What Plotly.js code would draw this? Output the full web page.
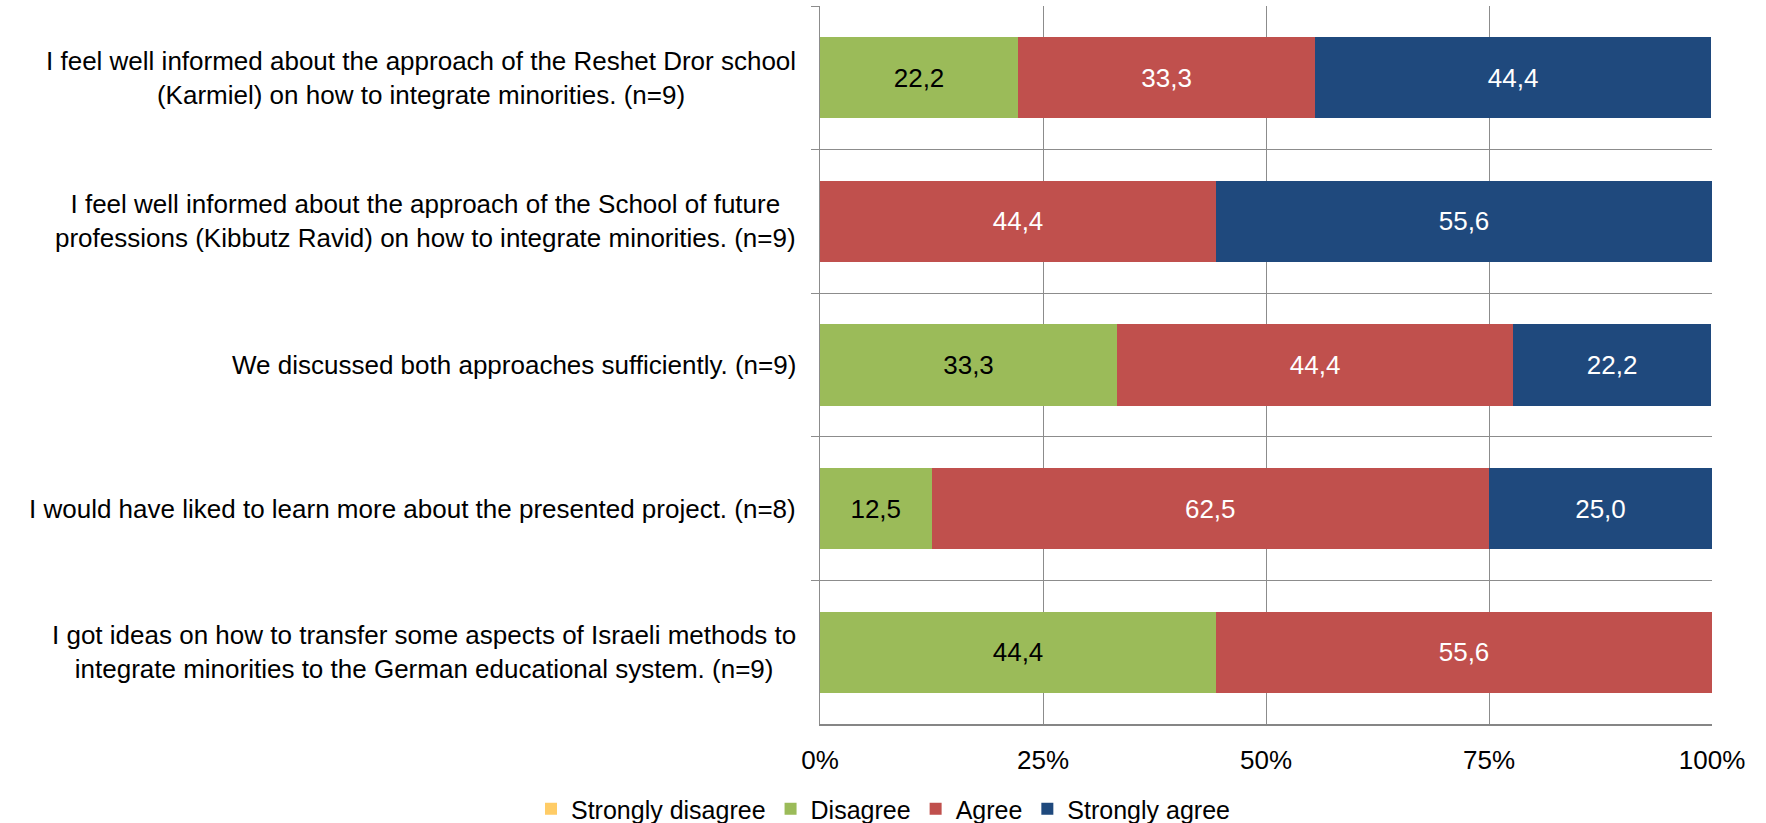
<!DOCTYPE html>
<html>
<head>
<meta charset="utf-8">
<script src="https://cdn.plot.ly/plotly-3.0.1.min.js"></script>
<style>
  html, body { margin: 0; padding: 0; background: #ffffff; }
  #chart { width: 1766px; height: 823px; }
</style>
</head>
<body>
<div id="chart"></div>
<script>
// ---- data ----
const categories = [
  "I feel well informed about the approach of the Reshet Dror school<br>(Karmiel) on how to integrate minorities. (n=9)",
  "I feel well informed about the approach of the School of future<br>professions (Kibbutz Ravid) on how to integrate minorities. (n=9)",
  "We discussed both approaches sufficiently. (n=9)",
  "I would have liked to learn more about the presented project. (n=8)",
  "I got ideas on how to transfer some aspects of Israeli methods to<br>integrate minorities to the German educational system. (n=9)"
];
const strongDisagree = [0, 0, 0, 0, 0];
const disagree       = [22.2, 0, 33.3, 12.5, 44.4];
const agree          = [33.3, 44.4, 44.4, 62.5, 55.6];
const strongAgree    = [44.4, 55.6, 22.2, 25.0, 0];
const xTickVals  = [0, 25, 50, 75, 100];
const xTickText  = ["0%", "25%", "50%", "75%", "100%"];

const fontFam = "Liberation Sans, Arial, sans-serif";
const FS = 26;
const fmt = v => (v > 0 ? v.toFixed(1).replace('.', ',') : "");

function series(name, vals, color, textColor) {
  return {
    type: 'bar',
    orientation: 'h',
    name: name,
    y: categories,
    x: vals,
    text: vals.map(fmt),
    textposition: 'inside',
    insidetextanchor: 'middle',
    textangle: 0,
    constraintext: 'none',
    textfont: { family: fontFam, size: FS, color: textColor },
    marker: { color: color, line: { width: 0 } },
    hoverinfo: 'skip'
  };
}

const data = [
  series("Strongly disagree", strongDisagree, "#FFCC66", "#000000"),
  series("Disagree", disagree, "#9BBB59", "#000000"),
  series("Agree", agree, "#C0504D", "#ffffff"),
  series("Strongly agree", strongAgree, "#1F497D", "#ffffff")
];

const annotations = categories.map(c => ({
  xref: 'paper', yref: 'y',
  x: 0, y: c,
  xanchor: 'right', yanchor: 'middle',
  xshift: -22,
  text: c,
  align: 'center',
  showarrow: false,
  font: { family: fontFam, size: FS, color: '#000000' }
}));

const layout = {
  width: 1766, height: 823,
  margin: { l: 820, r: 54, t: 6, b: 99, pad: 0 },
  paper_bgcolor: '#ffffff',
  plot_bgcolor: '#ffffff',
  barmode: 'stack',
  bargap: 0.435,
  showlegend: true,
  font: { family: fontFam, size: FS, color: '#000000' },
  xaxis: {
    range: [0, 100],
    tickvals: xTickVals,
    ticktext: xTickText,
    showgrid: true,
    gridcolor: '#8c8c8c',
    gridwidth: 1,
    zeroline: false,
    showline: true,
    linecolor: '#868686',
    linewidth: 2,
    ticks: '',
    ticklabelstandoff: 12,
    tickfont: { family: fontFam, size: FS, color: '#000000' },
    fixedrange: true
  },
  yaxis: {
    autorange: 'reversed',
    type: 'category',
    showticklabels: false,
    tickson: 'boundaries',
    ticks: 'outside',
    ticklen: 8,
    tickcolor: '#8c8c8c',
    showgrid: true,
    gridcolor: '#8c8c8c',
    gridwidth: 1,
    showline: true,
    linecolor: '#8c8c8c',
    linewidth: 1,
    zeroline: false,
    fixedrange: true
  },
  legend: {
    orientation: 'h',
    xref: 'container', yref: 'container',
    x: 0.5, xanchor: 'center',
    y: 0.017, yanchor: 'middle',
    font: { family: fontFam, size: 25, color: '#000000' },
    itemwidth: 30,
    traceorder: 'normal'
  },
  annotations: annotations
};

Plotly.newPlot('chart', data, layout, { displayModeBar: false, staticPlot: true });
</script>
</body>
</html>
